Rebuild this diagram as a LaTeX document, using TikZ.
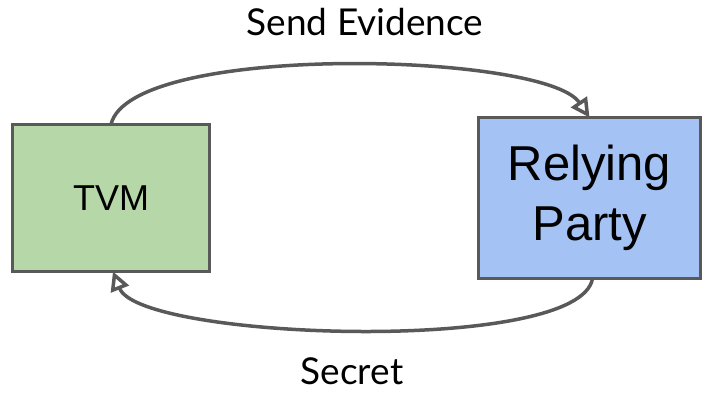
\documentclass[tikz,border=0pt]{standalone}
\usepackage{fontspec}
\setmainfont{Lato}
\newfontfamily\boxfont{Liberation Sans}
\usetikzlibrary{arrows.meta,calc}
\definecolor{edgegray}{HTML}{595959}
\definecolor{tvmgreen}{HTML}{B6D7A8}
\definecolor{rpblue}{HTML}{A4C2F4}
\tikzset{
  party/.style={draw=edgegray, line width=3.5pt, rectangle, align=center,
    inner sep=0pt, outer sep=0pt, font=\boxfont},
  flow/.style={draw=edgegray, line width=3.5pt,
    -{Triangle[open, length=19pt, width=19pt, line width=3.5pt]}},
  caption/.style={font=\fontsize{37}{44}\selectfont, text=black}
}
\begin{document}
\begin{tikzpicture}[x=1pt, y=-1pt]
  \useasboundingbox (0,0) rectangle (703,392);
  \node[party, fill=tvmgreen, minimum width=197pt, minimum height=147pt,
        font=\boxfont\fontsize{36}{42}\selectfont] (tvm) at (111,198) {TVM};
  \node[party, fill=rpblue, minimum width=222pt, minimum height=161pt,
        font=\boxfont\fontsize{49}{60}\selectfont] (rp) at (589.5,198) {Relying\\Party};
  \draw[flow] (tvm.north) .. controls (130,42) and (545,52) .. (rp.north);
  \draw[flow] ($(rp.south)+(3,0)$) .. controls (580,355) and (140,340) .. ($(tvm.south)+(2,0)$);
  \node[caption] (send) at (365,22) {Send Evidence};
  \node[caption] (secret) at (352,371) {Secret};
\end{tikzpicture}
\end{document}
